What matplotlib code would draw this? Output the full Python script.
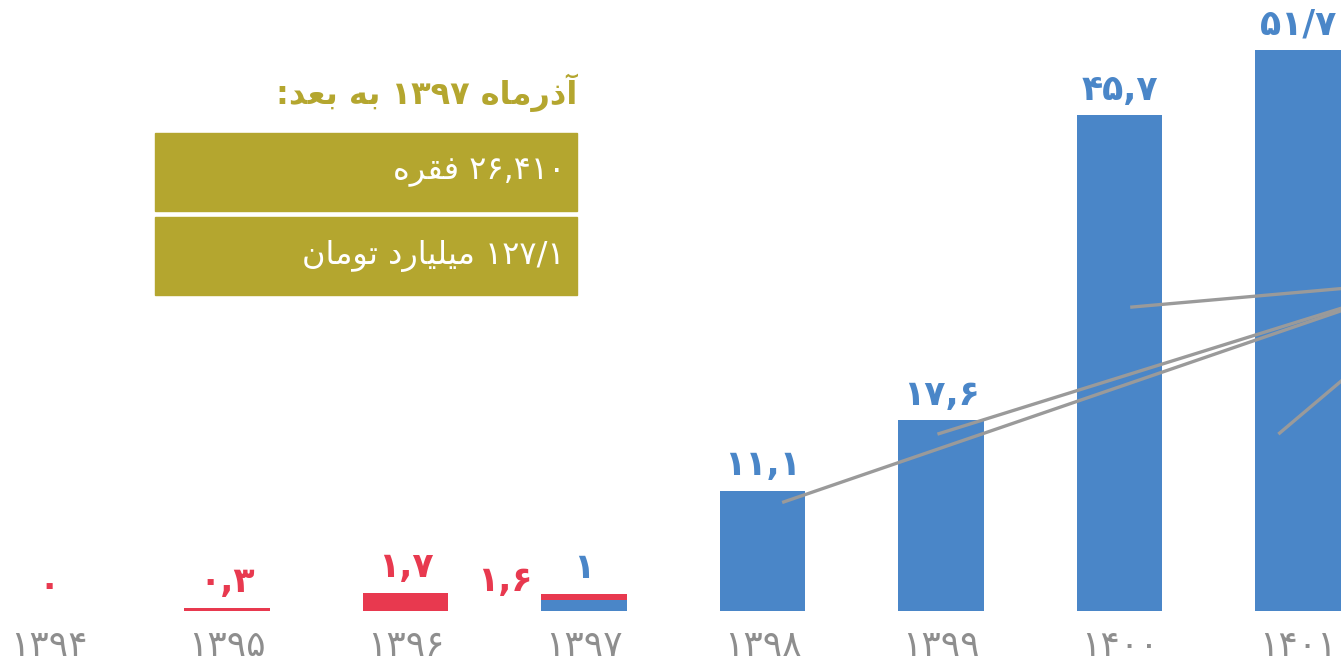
import re
import matplotlib
matplotlib.use('Agg')
import matplotlib.pyplot as plt
from matplotlib.patches import Rectangle

# Daten
jahre = ['۱۳۹۴', '۱۳۹۵', '۱۳۹۶', '۱۳۹۷', '۱۳۹۸', '۱۳۹۹', '۱۴۰۰', '۱۴۰۱']
rot_idx = [0, 1, 2, 3]
rot_werte = [0, 0.3, 1.7, 1.6]
rot_labels = ['۰', '۰,۳', '۱,۷', '۱,۶']
blau_idx = [3, 4, 5, 6, 7]
blau_werte = [1, 11.1, 17.6, 45.7, 51.7]
blau_labels = ['۱', '۱۱,۱', '۱۷,۶', '۴۵,۷', '۵۱/۷']

titel = 'آذرماه ۱۳۹۷ به بعد:'
box_texte = ['۲۶,۴۱۰ فقره', '۱۲۷/۱ میلیارد تومان']

# Hinweislinien (Start x, Start y, Ende x, Ende y) in Datenkoordinaten
linien = [
    (4.11, 10.0, 7.3, 28.0),
    (4.98, 16.3, 7.3, 28.2),
    (6.06, 28.0, 7.3, 29.8),
    (6.89, 16.3, 7.3, 22.0),
]

blau = '#4a86c8'
rot = '#e8394f'
oliv = '#b4a62f'
grau = '#8e8e8e'

# Einfaches Shaping fuer persische Buchstaben (Presentation Forms)
FORMS = {
    'ا': ('\uFE8D', '\uFE8E', None, None),
    'آ': ('\uFE81', '\uFE82', None, None),
    'ب': ('\uFE8F', '\uFE90', '\uFE91', '\uFE92'),
    'ت': ('\uFE95', '\uFE96', '\uFE97', '\uFE98'),
    'د': ('\uFEA9', '\uFEAA', None, None),
    'ذ': ('\uFEAB', '\uFEAC', None, None),
    'ر': ('\uFEAD', '\uFEAE', None, None),
    'ع': ('\uFEC9', '\uFECA', '\uFECB', '\uFECC'),
    'ف': ('\uFED1', '\uFED2', '\uFED3', '\uFED4'),
    'ق': ('\uFED5', '\uFED6', '\uFED7', '\uFED8'),
    'ل': ('\uFEDD', '\uFEDE', '\uFEDF', '\uFEE0'),
    'م': ('\uFEE1', '\uFEE2', '\uFEE3', '\uFEE4'),
    'ن': ('\uFEE5', '\uFEE6', '\uFEE7', '\uFEE8'),
    'ه': ('\uFEE9', '\uFEEA', '\uFEEB', '\uFEEC'),
    'و': ('\uFEED', '\uFEEE', None, None),
    'ی': ('\uFBFC', '\uFBFD', '\uFBFE', '\uFBFF'),
}


def fa(s):
    out = []
    for i, c in enumerate(s):
        if c not in FORMS:
            out.append(c)
            continue
        prev = s[i - 1] if i > 0 else ''
        nxt = s[i + 1] if i + 1 < len(s) else ''
        jp = prev in FORMS and FORMS[prev][2] is not None
        jn = nxt in FORMS and FORMS[c][2] is not None
        f = FORMS[c]
        if jp and jn:
            out.append(f[3])
        elif jp:
            out.append(f[1])
        elif jn:
            out.append(f[2])
        else:
            out.append(f[0])
    rev = ''.join(out)[::-1]
    # Zahlen bleiben links-nach-rechts
    return re.sub(r'[۰-۹][۰-۹,/]*[۰-۹]|[۰-۹]', lambda m: m.group(0)[::-1], rev)


plt.rcParams['font.family'] = ['DejaVu Sans']

fig = plt.figure(figsize=(13.41, 6.66), dpi=100)
ax = fig.add_axes([0, 0, 1, 1])
k = 10.85  # Pixel pro Einheit
ax.set_ylim(-(666 - 611) / k, 611 / k)
ax.set_xlim(-48.5 / 178.5, (1341 - 48.5) / 178.5)
ax.axis('off')

breite = 0.48
ax.bar(rot_idx, rot_werte, width=breite, color=rot, zorder=2)
ax.bar(blau_idx, blau_werte, width=breite, color=blau, zorder=3)

for x, v, t in zip(rot_idx, rot_werte, rot_labels):
    if x == 3:
        ax.annotate(t, (x - breite / 2, v), xytext=(-6, -3), textcoords='offset points',
                    ha='right', va='bottom', color=rot, fontsize=25, fontweight='bold')
    else:
        ax.annotate(t, (x, v), xytext=(0, 6), textcoords='offset points',
                    ha='center', va='bottom', color=rot, fontsize=25, fontweight='bold')

for x, v, t in zip(blau_idx, blau_werte, blau_labels):
    yv = max(v, rot_werte[3]) if x == 3 else v
    ax.annotate(t, (x, yv), xytext=(0, 6), textcoords='offset points',
                ha='center', va='bottom', color=blau, fontsize=25, fontweight='bold')

for x0, y0, x1, y1 in linien:
    ax.plot([x0, x1], [y0, y1], color='#9a9a9a', lw=2.4, solid_capstyle='butt', zorder=4)

trans = ax.get_xaxis_transform()
for i, j in enumerate(jahre):
    ax.text(i, 0.03, j, transform=trans, ha='center', va='center',
            color=grau, fontsize=26)

# Kasten oben links
fig.text(577 / 1341, 1 - 93 / 666, fa(titel), ha='right', va='center',
         color=oliv, fontsize=23, fontweight='bold')
for n, t in enumerate(box_texte):
    top = 133 + n * 84
    fig.patches.append(Rectangle((155 / 1341, 1 - (top + 78) / 666), 422 / 1341, 78 / 666,
                                 transform=fig.transFigure, color=oliv, zorder=1))
    fig.text(565 / 1341, 1 - (top + 39) / 666, fa(t), ha='right', va='center',
             color='white', fontsize=23)

fig.savefig('out.png', dpi=100)
